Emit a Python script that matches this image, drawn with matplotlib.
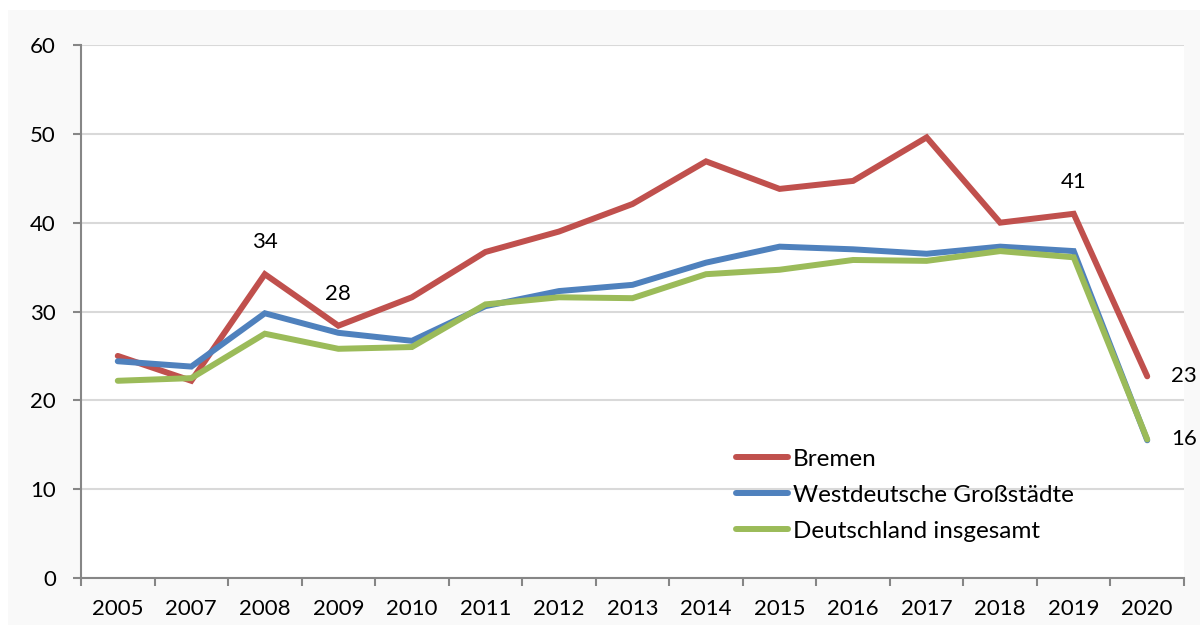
import matplotlib
matplotlib.use("Agg")
import matplotlib.pyplot as plt
from matplotlib.patches import Rectangle
import numpy as np

years = ["2005", "2007", "2008", "2009", "2010", "2011", "2012", "2013",
         "2014", "2015", "2016", "2017", "2018", "2019", "2020"]
bremen = [25.0, 22.2, 34.2, 28.4, 31.6, 36.7, 39.0, 42.1, 46.9, 43.8, 44.7, 49.6, 40.0, 41.0, 22.7]
west = [24.4, 23.8, 29.8, 27.6, 26.7, 30.6, 32.3, 33.0, 35.5, 37.3, 37.0, 36.5, 37.3, 36.8, 15.5]
deutschland = [22.2, 22.5, 27.5, 25.8, 26.0, 30.8, 31.6, 31.5, 34.2, 34.7, 35.8, 35.7, 36.8, 36.1, 15.6]
series_names = ["Bremen", "Westdeutsche Großstädte", "Deutschland insgesamt"]
colors = ["#C0504D", "#4F81BD", "#9BBB59"]
labels_above = [2, 3, 13]   # Bremen points labelled above
labels_right = [("bremen", 14), ("deutschland", 14)]

plt.rcParams['font.family'] = ['Lato', 'DejaVu Sans']

fig = plt.figure(figsize=(12, 6.25), dpi=100, facecolor="#f9f9f9")
# white outer border strips (top and left)
fig.patches.append(Rectangle((0, 1 - 10 / 625), 1, 10 / 625, transform=fig.transFigure,
                             facecolor="white", edgecolor="none", zorder=0))
fig.patches.append(Rectangle((0, 0), 8 / 1200, 1, transform=fig.transFigure,
                             facecolor="white", edgecolor="none", zorder=0))

ax = fig.add_axes([81 / 1200, 1 - 578 / 625, (1184 - 81) / 1200, (578 - 45) / 625])
ax.set_facecolor("white")

x = np.arange(len(years))
for vals, name, c in zip([bremen, west, deutschland], series_names, colors):
    ax.plot(x, vals, color=c, lw=4.3, label=name, solid_capstyle="round",
            solid_joinstyle="miter", zorder=3)

ax.set_xlim(-0.5, len(years) - 0.5)
ax.set_ylim(0, 60)
ax.set_yticks(np.arange(0, 61, 10))
ax.yaxis.grid(True, color="#d9d9d9", lw=1.5)
ax.set_axisbelow(True)

ax.set_xticks(x)
ax.set_xticklabels(years)
ax.set_xticks(np.arange(-0.5, len(years), 1), minor=True)
ax.tick_params(axis="x", which="major", length=0, pad=15, labelsize=16, colors="black")
ax.tick_params(axis="x", which="minor", length=6, width=1.5, color="#868686")
ax.tick_params(axis="y", length=6, width=1.5, color="#868686", pad=12, labelsize=16)

for s in ["top", "right"]:
    ax.spines[s].set_visible(False)
for s in ["left", "bottom"]:
    ax.spines[s].set_color("#868686")
    ax.spines[s].set_linewidth(1.5)

for i in labels_above:
    ax.annotate(f"{bremen[i]:.0f}", (x[i], bremen[i]), xytext=(0, 23), textcoords="offset points",
                ha="center", va="center", fontsize=16)
for key, i in labels_right:
    v = bremen[i] if key == "bremen" else deutschland[i]
    ax.annotate(f"{v:.0f}", (x[i], v), xytext=(17, 0), textcoords="offset points",
                ha="left", va="center", fontsize=16, annotation_clip=False)

leg = ax.legend(loc="upper left", bbox_to_anchor=((726 - 81) / 1103, (578 - 439) / 533),
                frameon=False, fontsize=17.5, handlelength=2.15, handletextpad=0.2,
                labelspacing=0.62, borderaxespad=0)

fig.savefig("out.png", dpi=100, facecolor=fig.get_facecolor())
